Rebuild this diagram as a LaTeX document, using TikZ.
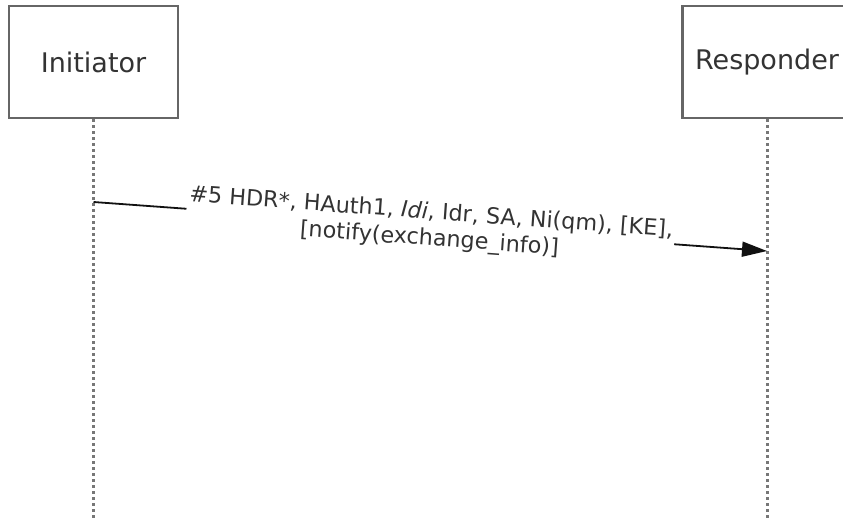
\documentclass[tikz,border=0pt]{standalone}
\usepackage{fontspec}
\setmainfont{DejaVu Sans}
\usetikzlibrary{arrows.meta, positioning}

\begin{document}
\begin{tikzpicture}[x=1pt, y=-1pt]
    % Define colours
    \definecolor{boxColour}{HTML}{666666}
    \definecolor{lifeColour}{HTML}{777777}
    \definecolor{msgColour}{HTML}{111111}
    \definecolor{textColour}{HTML}{333333}

    \tikzset{
        party/.style={draw=boxColour, line width=2.5pt, minimum width=169pt, minimum height=112pt,
            inner sep=0pt, text=textColour, font=\fontsize{27}{31}\selectfont},
        lifeline/.style={draw=lifeColour, line width=3pt, dash pattern=on 3pt off 3pt},
        msg/.style={draw=msgColour, line width=1.8pt, -{Triangle[length=25pt, width=15pt]}},
        msglabel/.style={sloped, fill=white, align=center, inner sep=2pt, text=textColour,
            font=\fontsize{22.3}{26.5}\selectfont},
    }

    % Fix page size
    \useasboundingbox (0,0) rectangle (843,520);

    % Draw the parties
    \node[party] (init) at (93.5,62) {Initiator};
    \node[party] (resp) at (767,62) {Responder};

    % Draw the lifelines
    \coordinate (bottom) at (0,521);
    \draw[lifeline] (init.south) -- (init.south |- bottom);
    \draw[lifeline] (resp.south) -- (resp.south |- bottom);

    % Draw the message
    \coordinate (msgStart) at (93.5,202);
    \coordinate (msgEnd) at (767,251);
    \draw[msg] (msgStart) -- node[msglabel] {\#5 HDR*, HAuth1, \textit{Idi}, Idr, SA, Ni(qm), {[}KE{]},\\
        {[}notify(exchange\_info){]}} (msgEnd);

\end{tikzpicture}
\end{document}
